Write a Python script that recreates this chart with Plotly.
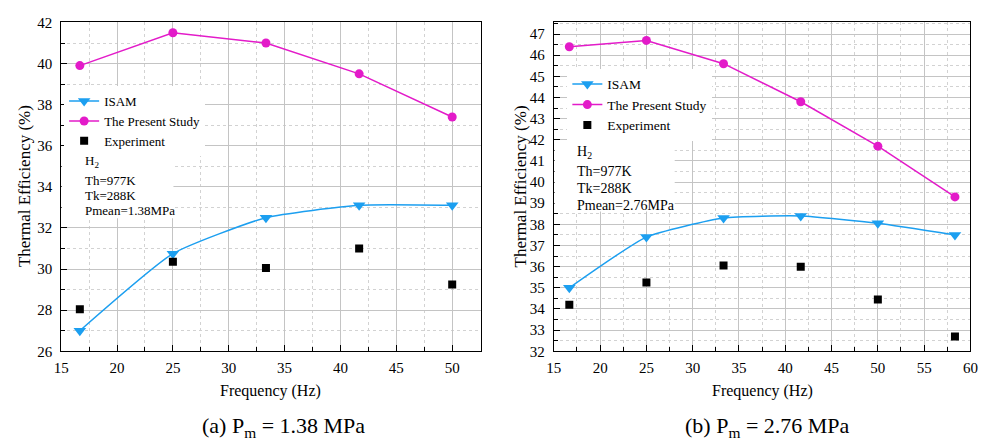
import plotly.graph_objects as go

# ---------------- data ----------------
freq_a = [16.67, 25.0, 33.33, 41.67, 50.0]
present_a = [39.9, 41.5, 41.0, 39.5, 37.4]
isam_a = [27.0, 30.75, 32.5, 33.1, 33.1]
exp_a = [28.05, 30.35, 30.05, 31.0, 29.25]

freq_b = [16.67, 25.0, 33.33, 41.67, 50.0, 58.33]
present_b = [46.4, 46.7, 45.6, 43.8, 41.7, 39.3]
isam_b = [35.0, 37.4, 38.3, 38.4, 38.05, 37.5]
exp_b = [34.2, 35.25, 36.05, 36.0, 34.45, 32.7]

series_names = ["ISAM", "The Present Study", "Experiment"]
cond_a = ["H<sub>2</sub>", "Th=977K", "Tk=288K", "Pmean=1.38MPa"]
cond_b = ["H<sub>2</sub>", "Th=977K", "Tk=288K", "Pmean=2.76MPa"]
x_title = "Frequency (Hz)"
y_title = "Thermal Efficiency (%)"
caption_a = "(a) P<sub>m</sub> = 1.38 MPa"
caption_b = "(b) P<sub>m</sub> = 2.76 MPa"

# ---------------- style ----------------
W, H = 985, 447
FONT = "'Liberation Serif', 'Times New Roman', serif"
BLUE = "#1C9FF0"
MAG = "#E31BC9"
BLACK = "#000000"


def px(x):
    return x / W


def py(y):
    return 1 - y / H


fig = go.Figure()


def add_series(freq, isam, present, exp, xa, ya, legend):
    fig.add_trace(go.Scatter(
        x=freq, y=isam, name=series_names[0], mode="lines+markers",
        line=dict(color=BLUE, width=1.5, shape="spline", smoothing=0.5),
        marker=dict(symbol="triangle-down", size=11, color=BLUE),
        xaxis=xa, yaxis=ya, legend=legend))
    fig.add_trace(go.Scatter(
        x=freq, y=present, name=series_names[1], mode="lines+markers",
        line=dict(color=MAG, width=1.5),
        marker=dict(symbol="circle", size=9, color=MAG),
        xaxis=xa, yaxis=ya, legend=legend))
    fig.add_trace(go.Scatter(
        x=freq, y=exp, name=series_names[2], mode="markers",
        marker=dict(symbol="square", size=8, color=BLACK),
        xaxis=xa, yaxis=ya, legend=legend))


add_series(freq_a, isam_a, present_a, exp_a, "x", "y", "legend")
add_series(freq_b, isam_b, present_b, exp_b, "x2", "y2", "legend2")

tickfont = dict(family=FONT, size=15, color=BLACK)


def axis_common(dtick, minor_dtick, rng, domain, anchor, standoff):
    return dict(
        range=rng, domain=domain, anchor=anchor, dtick=dtick, tick0=0,
        showline=True, linecolor=BLACK, linewidth=1, mirror=True,
        ticks="inside", ticklen=6, tickcolor=BLACK, tickwidth=1,
        showgrid=True, gridcolor="#C4C4C4", gridwidth=1,
        zeroline=False, tickfont=tickfont, ticklabelstandoff=standoff,
        minor=dict(dtick=minor_dtick, tick0=0, ticks="inside", ticklen=4,
                   tickcolor=BLACK, showgrid=True, gridcolor="#D2D2D2",
                   griddash="dot", gridwidth=1),
    )


ydom = [py(356), py(15)]
fig.update_layout(
    width=W, height=H, margin=dict(l=0, r=0, t=0, b=0),
    paper_bgcolor="white", plot_bgcolor="white",
    font=dict(family=FONT, color=BLACK),
    xaxis=axis_common(5, 2.5, [15, 52.55], [px(54), px(480)], "y", 3),
    yaxis=axis_common(2, 1, [26, 42], ydom, "x", 5),
    xaxis2=axis_common(5, 2.5, [15, 60], [px(554.3), px(977.3)], "y2", 3),
    yaxis2=axis_common(1, 0.5, [32, 47.55], ydom, "x2", 5),
    legend=dict(x=px(57), y=py(81), xanchor="left", yanchor="top",
                bgcolor="white", borderwidth=0,
                font=dict(family=FONT, size=13, color=BLACK),
                tracegroupgap=0),
    legend2=dict(x=px(568), y=py(63), xanchor="left", yanchor="top",
                 bgcolor="white", borderwidth=0,
                 font=dict(family=FONT, size=13.5, color=BLACK),
                 tracegroupgap=0),
    showlegend=True,
)

# white boxes behind condition text
fig.add_shape(type="rect", xref="paper", yref="paper",
              x0=px(54.5), x1=px(168), y0=py(218), y1=py(143),
              fillcolor="white", line=dict(width=0), layer="above")
fig.add_shape(type="rect", xref="paper", yref="paper",
              x0=px(555), x1=px(677), y0=py(211), y1=py(138),
              fillcolor="white", line=dict(width=0), layer="above")

ann = []
ys_a = [159, 179, 194.5, 209.5]
for t, yy in zip(cond_a, ys_a):
    ann.append(dict(text=t, x=px(76), y=py(yy), xref="paper", yref="paper",
                    xanchor="left", yanchor="middle", showarrow=False,
                    font=dict(family=FONT, size=13, color=BLACK)))
ys_b = [150, 170, 187.5, 205]
for t, yy in zip(cond_b, ys_b):
    ann.append(dict(text=t, x=px(576), y=py(yy), xref="paper", yref="paper",
                    xanchor="left", yanchor="middle", showarrow=False,
                    font=dict(family=FONT, size=14, color=BLACK)))

# axis titles
for cx in (267, 766):
    ann.append(dict(text=x_title, x=px(cx), y=py(397), xref="paper", yref="paper",
                    xanchor="center", yanchor="middle", showarrow=False,
                    font=dict(family=FONT, size=16, color=BLACK)))
for cx in (17, 520):
    ann.append(dict(text=y_title, x=px(cx), y=py(185), xref="paper", yref="paper",
                    xanchor="center", yanchor="middle", showarrow=False,
                    textangle=-90, font=dict(family=FONT, size=17, color=BLACK)))

# captions
ann.append(dict(text=caption_a, x=px(195), y=py(435), xref="paper", yref="paper",
                xanchor="left", yanchor="middle", showarrow=False,
                font=dict(family=FONT, size=22, color=BLACK)))
ann.append(dict(text=caption_b, x=px(685), y=py(435), xref="paper", yref="paper",
                xanchor="left", yanchor="middle", showarrow=False,
                font=dict(family=FONT, size=22, color=BLACK)))

fig.update_layout(annotations=ann)

fig.write_html("out.html")
